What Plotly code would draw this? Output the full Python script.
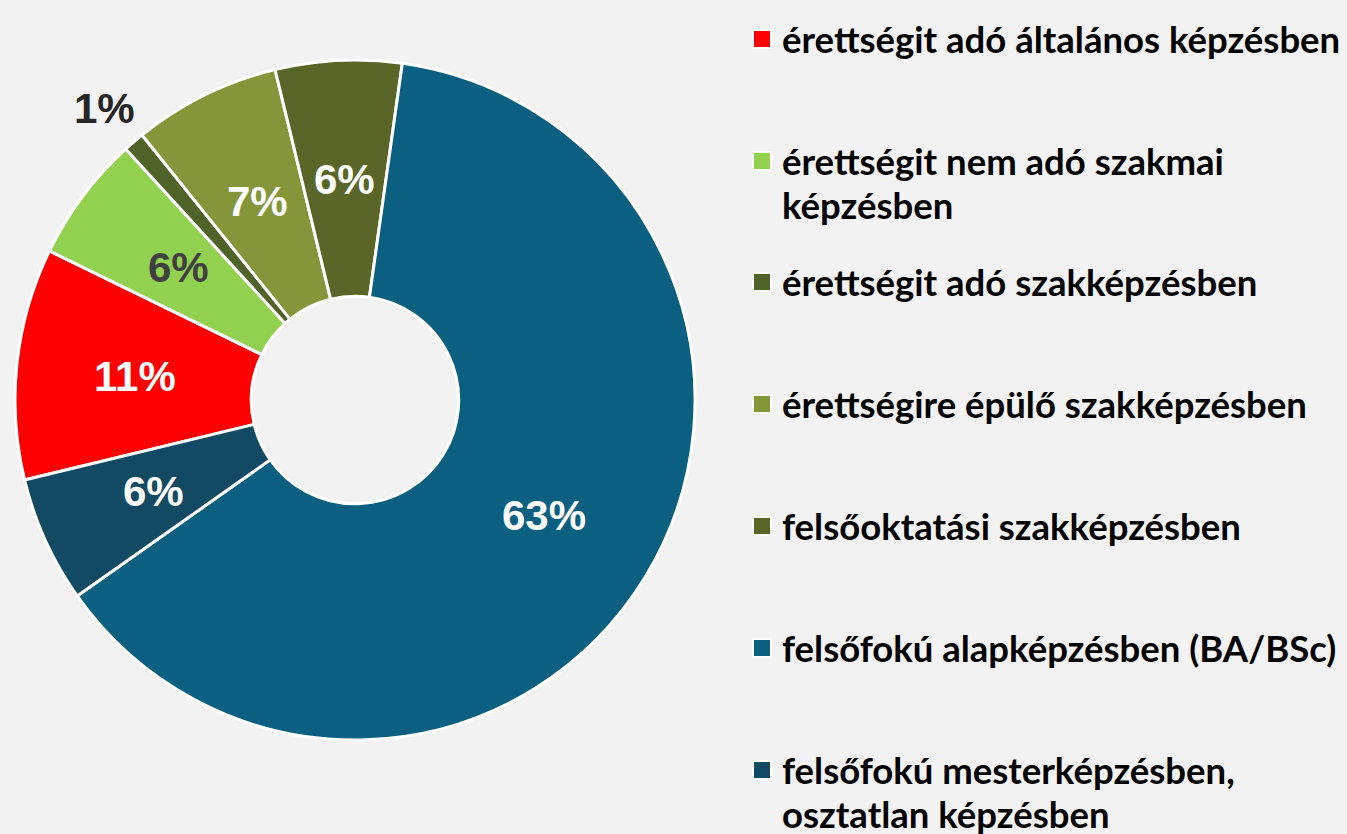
import math
import plotly.graph_objects as go

# ---- data ----
labels = [
    "érettségit adó általános képzésben",
    "érettségit nem adó szakmai<br>képzésben",
    "érettségit adó szakképzésben",
    "érettségire épülő szakképzésben",
    "felsőoktatási szakképzésben",
    "felsőfokú alapképzésben (BA/BSc)",
    "felsőfokú mesterképzésben,<br>osztatlan képzésben",
]
values = [11, 6, 1, 7, 6, 63, 6]
colors = ["#FF0000", "#92D050", "#4F6228", "#85963A", "#5A6628", "#0B5F80", "#134A63"]
text_colors = ["#FFFFFF", "#404040", "#262626", "#FFFFFF", "#FFFFFF", "#FFFFFF", "#FFFFFF"]
label_radius = [0.65, 0.65, 1.13, 0.65, 0.65, 0.65, 0.65]  # fraction of outer radius

W, H = 1347, 834
BG = "#F2F2F2"
ROTATION = 256.4
# pie domain in pixels
PX0, PX1, PY0, PY1 = 15, 695, 60, 740
CX, CY = (PX0 + PX1) / 2, (PY0 + PY1) / 2
R = min(PX1 - PX0, PY1 - PY0) / 2

fig = go.Figure()
fig.add_trace(go.Pie(
    labels=[l.replace("<br>", " ") for l in labels],
    values=values,
    sort=False,
    direction="clockwise",
    rotation=ROTATION,
    hole=0.305,
    marker=dict(colors=colors, line=dict(color="#FFFFFF", width=3)),
    textinfo="none",
    domain=dict(x=[PX0 / W, PX1 / W], y=[1 - PY1 / H, 1 - PY0 / H]),
    showlegend=False,
    hoverinfo="label+percent",
))

annotations = []
shapes = []

# ---- percentage labels, placed at each slice's mid-angle ----
total = sum(values)
cum = 0.0
for v, tc, rf in zip(values, text_colors, label_radius):
    mid = math.radians(ROTATION + (cum + v / 2) / total * 360.0)
    cum += v
    px = CX + rf * R * math.sin(mid)
    py = CY - rf * R * math.cos(mid)
    annotations.append(dict(
        x=px / W, y=1 - py / H, xref="paper", yref="paper",
        xanchor="center", yanchor="middle", showarrow=False,
        text=f"{round(100 * v / total)}%",
        font=dict(family="Liberation Sans, Arial, sans-serif", size=42, color=tc, weight="bold"),
    ))

# ---- custom legend (marker squares + text) ----
first_line_y = [39, 161, 282, 404, 526, 648, 770]
line_gap = 44
for i, (lab, col) in enumerate(zip(labels, colors)):
    cy = first_line_y[i]
    shapes.append(dict(
        type="rect", xref="paper", yref="paper",
        x0=753 / W, x1=771 / W, y0=1 - (cy - 9) / H, y1=1 - (cy + 9) / H,
        fillcolor=col, line=dict(color="#FFFFFF", width=2), layer="above",
    ))
    for j, part in enumerate(lab.split("<br>")):
        annotations.append(dict(
            x=780 / W, y=1 - (cy + j * line_gap) / H, xref="paper", yref="paper",
            xanchor="left", yanchor="middle", showarrow=False, text=part,
            font=dict(family="Lato, Open Sans, sans-serif", size=36.5, color="#000000", weight="bold"),
        ))

fig.update_layout(
    width=W, height=H,
    margin=dict(l=0, r=0, t=0, b=0),
    paper_bgcolor=BG, plot_bgcolor=BG,
    shapes=shapes, annotations=annotations,
)

fig.write_html(
    "out.html",
    config={"displayModeBar": False},
    post_script="document.body.style.margin='0';document.body.style.overflow='hidden';",
)
